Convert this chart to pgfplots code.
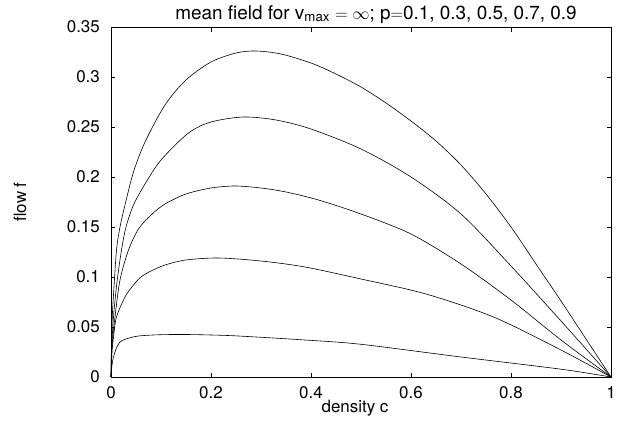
\documentclass[border=0pt]{standalone}
\usepackage{pgfplots}
\pgfplotsset{compat=1.18}
\usepackage{fontspec}
\setmainfont{TeX Gyre Heros}
\newcommand{\tickfont}{\fontsize{17}{20}\selectfont}
\newcommand{\titlefont}{\fontsize{19}{23}\selectfont}
\begin{document}
\begin{tikzpicture}[font=\tickfont]
\useasboundingbox (-111bp,-46bp) rectangle (510bp,377bp);
\begin{axis}[
  at={(0,0)}, anchor=south west,
  scale only axis, width=500bp, height=350bp,
  xmin=0, xmax=1, ymin=0, ymax=0.35,
  xtick={0,0.2,0.4,0.6,0.8,1},
  xticklabels={0,0.2,0.4,0.6,0.8,1},
  ytick={0,0.05,0.1,0.15,0.2,0.25,0.3,0.35},
  yticklabels={0,0.05,0.1,0.15,0.2,0.25,0.3,0.35},
  tick align=inside, major tick length=4.5bp,
  tick style={black, line width=0.6pt},
  axis line style={line width=0.7pt},
  /pgf/number format/assume math mode=true,
  yticklabel style={anchor=east, inner sep=0pt, xshift=-11bp, font=\tickfont},
  xticklabel style={anchor=north, inner sep=0pt, yshift=-9bp, font=\tickfont},
  xlabel={density c},
  ylabel={flow f},
  xlabel style={at={(axis description cs:0.488,0)}, anchor=base, yshift=-35bp, inner sep=0pt, font=\tickfont},
  ylabel style={at={(axis description cs:-0.182,0.5)}, anchor=center, font=\tickfont},
  curve/.style={black, line width=0.6pt, smooth, tension=0.5, mark=none},
  clip=false,
]
\node[anchor=base, inner sep=0pt, font=\titlefont] at ([yshift=8bp]rel axis cs:0.53,1) {mean field for v\textsubscript{max} $=\infty$; p$=$0.1, 0.3, 0.5, 0.7, 0.9};
\addplot[curve] coordinates {(0,0) (0.001,0.035) (0.003,0.065) (0.006,0.09) (0.011,0.127) (0.018,0.15) (0.028,0.172) (0.045,0.205) (0.068,0.235) (0.108,0.272) (0.15,0.297) (0.2,0.315) (0.25,0.324) (0.29,0.326) (0.34,0.323) (0.4,0.314) (0.45,0.303) (0.5,0.290) (0.55,0.274) (0.6,0.256) (0.65,0.236) (0.7,0.212) (0.75,0.183) (0.8,0.150) (0.85,0.113) (0.9,0.076) (0.95,0.038) (1,0)};
\addplot[curve] coordinates {(0,0) (0.001,0.025) (0.005,0.06) (0.012,0.095) (0.021,0.127) (0.03,0.15) (0.045,0.172) (0.068,0.193) (0.1,0.217) (0.155,0.244) (0.2,0.255) (0.265,0.260) (0.33,0.257) (0.4,0.248) (0.5,0.228) (0.6,0.200) (0.7,0.163) (0.8,0.111) (0.9,0.056) (1,0)};
\addplot[curve] coordinates {(0,0) (0.002,0.03) (0.008,0.06) (0.018,0.097) (0.035,0.127) (0.055,0.148) (0.08,0.162) (0.108,0.173) (0.15,0.183) (0.2,0.189) (0.248,0.191) (0.3,0.189) (0.35,0.185) (0.415,0.177) (0.5,0.163) (0.6,0.143) (0.7,0.113) (0.8,0.077) (0.9,0.037) (1,0)};
\addplot[curve] coordinates {(0,0) (0.002,0.025) (0.005,0.04) (0.011,0.06) (0.028,0.08) (0.045,0.092) (0.06,0.1) (0.08,0.106) (0.108,0.112) (0.15,0.117) (0.215,0.119) (0.3,0.116) (0.388,0.110) (0.5,0.098) (0.63,0.083) (0.765,0.060) (0.9,0.027) (1,0)};
\addplot[curve] coordinates {(0,0) (0.002,0.012) (0.005,0.02) (0.01,0.028) (0.018,0.035) (0.03,0.038) (0.055,0.041) (0.1,0.0423) (0.15,0.0425) (0.2,0.042) (0.255,0.041) (0.388,0.037) (0.5,0.0327) (0.7,0.020) (0.9,0.0078) (1,0)};
\end{axis}
\end{tikzpicture}
\end{document}
